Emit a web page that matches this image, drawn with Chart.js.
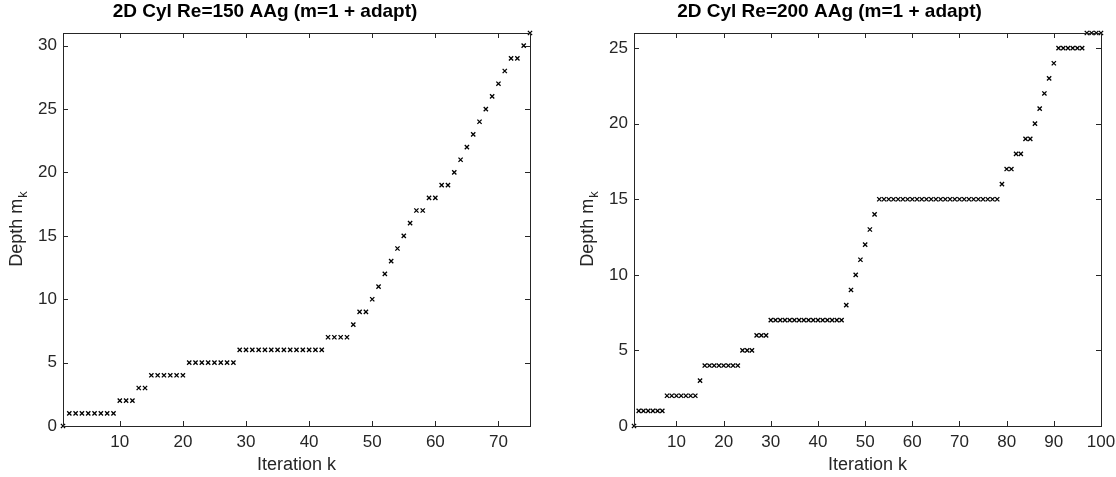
<!DOCTYPE html>
<html lang="en">
<head>
<meta charset="UTF-8" />
<title>Adaptive depth per iteration</title>
<script src="https://cdn.jsdelivr.net/npm/chart.js"></script>
<style>
  body { margin: 0; background: #fff; }
  .panel { position: absolute; top: 0; width: 558px; height: 477px; }
  #left { left: 0; }
  #right { left: 558px; }
</style>
</head>
<body>
<div class="panel" id="left"><canvas id="re150"></canvas></div>
<div class="panel" id="right"><canvas id="re200"></canvas></div>

<script>
  // depth m_k chosen at each iteration k (k starts at 1)
  const depthRe150 = [0,
    1, 1, 1, 1, 1, 1, 1, 1,
    2, 2, 2,
    3, 3,
    4, 4, 4, 4, 4, 4,
    5, 5, 5, 5, 5, 5, 5, 5,
    6, 6, 6, 6, 6, 6, 6, 6, 6, 6, 6, 6, 6, 6,
    7, 7, 7, 7,
    8, 9, 9, 10, 11, 12, 13, 14, 15, 16, 17, 17, 18, 18, 19, 19,
    20, 21, 22, 23, 24, 25, 26, 27, 28, 29, 29, 30, 31];

  const depthRe200 = [0,
    1, 1, 1, 1, 1, 1,
    2, 2, 2, 2, 2, 2, 2,
    3,
    4, 4, 4, 4, 4, 4, 4, 4,
    5, 5, 5,
    6, 6, 6,
    7, 7, 7, 7, 7, 7, 7, 7, 7, 7, 7, 7, 7, 7, 7, 7,
    8, 9, 10, 11, 12, 13, 14,
    15, 15, 15, 15, 15, 15, 15, 15, 15, 15, 15, 15, 15,
    15, 15, 15, 15, 15, 15, 15, 15, 15, 15, 15, 15, 15,
    16, 17, 17, 18, 18, 19, 19, 20, 21, 22, 23, 24,
    25, 25, 25, 25, 25, 25,
    26, 26, 26, 26];

  const xTicksRe150 = [10, 20, 30, 40, 50, 60, 70];
  const yTicksRe150 = [0, 5, 10, 15, 20, 25, 30];
  const xTicksRe200 = [10, 20, 30, 40, 50, 60, 70, 80, 90, 100];
  const yTicksRe200 = [0, 5, 10, 15, 20, 25];

  const AXIS_COLOR = '#262626';
  const FONT = '"Liberation Sans", Arial, sans-serif';

  // MATLAB-style box: frame around the plot area with inward ticks on all sides,
  // plus the y label with a subscript
  const boxPlugin = {
    id: 'boxFrame',
    afterDatasetsDraw(chart, args, opts) {
      const { ctx, chartArea: a, scales } = chart;
      const len = 5;
      ctx.save();
      ctx.strokeStyle = AXIS_COLOR;
      ctx.lineWidth = 1;
      ctx.strokeRect(Math.round(a.left) + 0.5, Math.round(a.top) + 0.5,
        Math.round(a.right - a.left), Math.round(a.bottom - a.top));
      ctx.beginPath();
      scales.x.ticks.forEach(t => {
        const px = Math.round(scales.x.getPixelForValue(t.value)) + 0.5;
        ctx.moveTo(px, a.bottom); ctx.lineTo(px, a.bottom - len);
        ctx.moveTo(px, a.top); ctx.lineTo(px, a.top + len);
      });
      scales.y.ticks.forEach(t => {
        const py = Math.round(scales.y.getPixelForValue(t.value)) + 0.5;
        ctx.moveTo(a.left, py); ctx.lineTo(a.left + len, py);
        ctx.moveTo(a.right, py); ctx.lineTo(a.right - len, py);
      });
      ctx.stroke();

      // "Depth m_k"
      const cx = a.left - opts.labelOffset;
      const cy = (a.top + a.bottom) / 2;
      ctx.translate(cx, cy);
      ctx.rotate(-Math.PI / 2);
      ctx.fillStyle = AXIS_COLOR;
      ctx.textBaseline = 'middle';
      ctx.textAlign = 'left';
      const main = 'Depth m', sub = 'k';
      ctx.font = '18px ' + FONT;
      const w1 = ctx.measureText(main).width;
      ctx.font = '13px ' + FONT;
      const w2 = ctx.measureText(sub).width;
      const x0 = -(w1 + w2) / 2;
      ctx.font = '18px ' + FONT;
      ctx.fillText(main, x0, 0);
      ctx.font = '13px ' + FONT;
      ctx.fillText(sub, x0 + w1 + 1, 6);
      ctx.restore();
    }
  };

  function makePanel(id, title, depth, xTicks, yTicks, yMax, area) {
    const points = depth.map((d, i) => ({ x: i + 1, y: d }));
    return new Chart(document.getElementById(id), {
      type: 'scatter',
      data: {
        datasets: [{
          data: points,
          clip: false,
          pointStyle: 'crossRot',
          pointRadius: 3,
          pointBorderWidth: 1.3,
          borderColor: '#000',
          backgroundColor: '#000'
        }]
      },
      options: {
        responsive: true,
        maintainAspectRatio: false,
        animation: false,
        layout: { padding: { top: 0, left: 0, bottom: 0, right: area.padRight } },
        plugins: {
          legend: { display: false },
          tooltip: { enabled: false },
          title: {
            display: true,
            text: title,
            color: '#000',
            font: { family: FONT, size: 19, weight: 'bold' },
            padding: { top: 0, bottom: 10.2 }
          },
          boxFrame: { labelOffset: area.labelOffset }
        },
        scales: {
          x: {
            type: 'linear',
            min: 1,
            max: depth.length,
            afterBuildTicks: s => { s.ticks = xTicks.map(v => ({ value: v })); },
            afterFit: s => { s.height = 51; s.paddingLeft = 0; s.paddingRight = 0; },
            grid: { display: false, drawTicks: false },
            border: { display: false },
            ticks: { color: AXIS_COLOR, font: { family: FONT, size: 17 }, padding: 6, maxRotation: 0 },
            title: {
              display: true,
              text: 'Iteration k',
              color: AXIS_COLOR,
              font: { family: FONT, size: 18 },
              padding: { top: 0, bottom: 1 }
            }
          },
          y: {
            min: 0,
            max: yMax,
            afterBuildTicks: s => { s.ticks = yTicks.map(v => ({ value: v })); },
            afterFit: s => { s.width = area.left; s.paddingTop = 0; s.paddingBottom = 0; },
            grid: { display: false, drawTicks: false },
            border: { display: false },
            ticks: { color: AXIS_COLOR, font: { family: FONT, size: 17 }, padding: 6 }
          }
        }
      },
      plugins: [boxPlugin]
    });
  }

  makePanel('re150', '2D Cyl Re=150 AAg (m=1 + adapt)', depthRe150,
    xTicksRe150, yTicksRe150, 31, { left: 63, padRight: 28, labelOffset: 46 });
  makePanel('re200', '2D Cyl Re=200 AAg (m=1 + adapt)', depthRe200,
    xTicksRe200, yTicksRe200, 26, { left: 76, padRight: 15, labelOffset: 46 });
</script>
</body>
</html>
